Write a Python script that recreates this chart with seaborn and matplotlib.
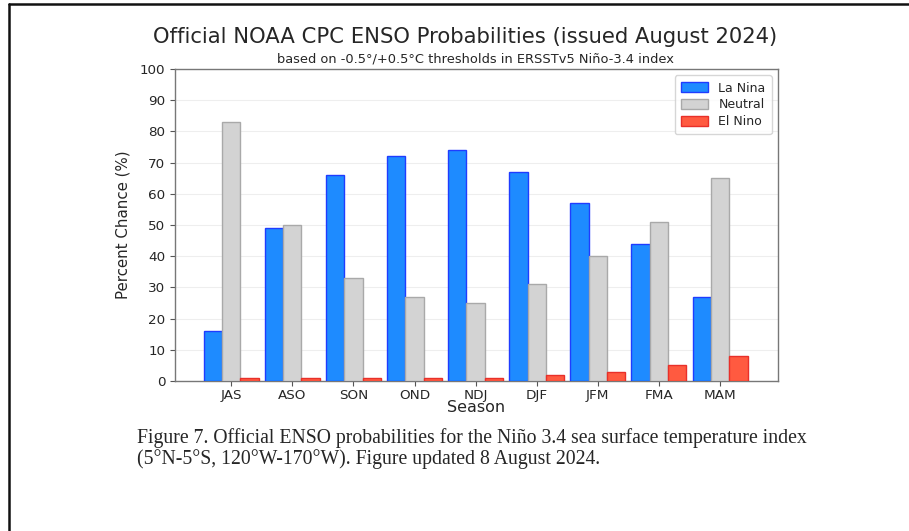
import pandas as pd
import matplotlib.pyplot as plt
import seaborn as sns
from matplotlib.lines import Line2D

seasons = ['JAS', 'ASO', 'SON', 'OND', 'NDJ', 'DJF', 'JFM', 'FMA', 'MAM']
la_nina = [16, 49, 66, 72, 74, 67, 57, 44, 27]
neutral = [83, 50, 33, 27, 25, 31, 40, 51, 65]
el_nino = [1, 1, 1, 1, 1, 2, 3, 5, 8]
categories = ['La Nina', 'Neutral', 'El Nino']

data = pd.DataFrame({'Season': seasons, 'La Nina': la_nina,
                     'Neutral': neutral, 'El Nino': el_nino})
data = data.melt(id_vars='Season', var_name='Category', value_name='Chance')

sns.set_style('white')
plt.rcParams['font.family'] = ['DejaVu Sans']

fig = plt.figure(figsize=(9.09, 5.31), dpi=100)
ax = fig.add_axes([0.1925, 0.2825, 0.6635, 0.5875])

fill = {'La Nina': '#1e8bff', 'Neutral': '#d3d3d3', 'El Nino': '#ff5a40'}
edge = {'La Nina': '#1f3cff', 'Neutral': '#a9a9a9', 'El Nino': '#e8302a'}

sns.barplot(data=data, x='Season', y='Chance', hue='Category',
            hue_order=categories, palette=fill, width=0.9,
            saturation=1, ax=ax, zorder=3)

for cont, cat in zip(ax.containers, categories):
    for bar in cont:
        bar.set_edgecolor(edge[cat])
        bar.set_linewidth(1.0)

ax.set_xlim(-0.92, 8.95)
ax.set_ylim(0, 100)
ax.set_yticks(range(0, 101, 10))
ax.yaxis.grid(True, color='#eeeeee', linewidth=0.8, zorder=0)
ax.tick_params(axis='both', labelsize=9.7, length=3.5, color='#555555',
               direction='out', bottom=True, left=True)
ax.tick_params(axis='x', pad=2)
for s in ax.spines.values():
    s.set_color('#777777')
    s.set_linewidth(1.0)

ax.set_xlabel('Season', fontsize=11.5, labelpad=-1)
ax.set_ylabel('Percent Chance (%)', fontsize=10.8, labelpad=7)

leg = ax.legend(loc='upper right', fontsize=9, frameon=True,
                handlelength=2.2, handleheight=0.9, borderpad=0.5,
                labelspacing=0.3)
leg.get_frame().set_edgecolor('#cccccc')
for h, cat in zip(leg.legend_handles, categories):
    h.set_edgecolor(edge[cat])
leg.set_title(None)

fig.text(0.512, 0.93, 'Official NOAA CPC ENSO Probabilities (issued August 2024)',
         ha='center', va='center', fontsize=15.2)
fig.text(0.523, 0.888, 'based on -0.5°/+0.5°C thresholds in ERSSTv5 Niño-3.4 index',
         ha='center', va='center', fontsize=9.4)

caption = ('Figure 7. Official ENSO probabilities for the Niño 3.4 sea surface temperature index\n'
           '(5°N-5°S, 120°W-170°W). Figure updated 8 August 2024.')
fig.text(0.151, 0.156, caption, ha='left', va='center', fontsize=14.2,
         family=['Liberation Serif', 'DejaVu Serif'], linespacing=1.08)

# page border (top and left)
fig.add_artist(Line2D([0.0099, 1.0], [0.9925, 0.9925], color='#111111', linewidth=1.8))
fig.add_artist(Line2D([0.0099, 0.0099], [0.0, 0.9925], color='#111111', linewidth=1.8))

fig.savefig('out.png', dpi=100)
